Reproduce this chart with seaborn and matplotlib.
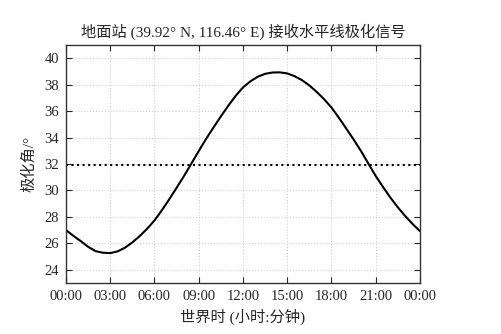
import numpy as np
import pandas as pd
import matplotlib
matplotlib.use("Agg")
import matplotlib.pyplot as plt
import seaborn as sns

# data (every half hour)
hours = [0, 0.5, 1, 1.5, 2, 2.5, 3, 3.5, 4, 4.5, 5, 5.5, 6, 6.5, 7, 7.5, 8, 8.5,
         9, 9.5, 10, 10.5, 11, 11.5, 12, 12.5, 13, 13.5, 14, 14.5, 15, 15.5, 16, 16.5,
         17, 17.5, 18, 18.5, 19, 19.5, 20, 20.5, 21, 21.5, 22, 22.5, 23, 23.5, 24]
angle = [27.00, 26.57, 26.17, 25.74, 25.41, 25.29, 25.26, 25.39, 25.67, 26.07, 26.55, 27.10,
         27.73, 28.50, 29.33, 30.20, 31.09, 32.03, 32.98, 33.90, 34.76, 35.60, 36.40, 37.15,
         37.79, 38.25, 38.60, 38.82, 38.92, 38.93, 38.85, 38.64, 38.34, 37.94, 37.45, 36.90,
         36.27, 35.50, 34.68, 33.85, 32.98, 32.03, 31.09, 30.25, 29.45, 28.72, 28.06, 27.46, 26.92]
ref_angle = 31.92
tick_hours = [0, 3, 6, 9, 12, 15, 18, 21, 24]
tick_labels = ["00:00", "03:00", "06:00", "09:00", "12:00", "15:00", "18:00", "21:00", "00:00"]
y_ticks = [24, 26, 28, 30, 32, 34, 36, 38, 40]

df = pd.DataFrame({"hour": hours, "angle": angle})

sns.set_style("ticks")
plt.rcParams['font.family'] = ['Liberation Serif', 'Noto Sans CJK SC']
plt.rcParams['axes.unicode_minus'] = False

fig = plt.figure(figsize=(5.01, 3.34), dpi=100)
ax = fig.add_axes([0.1317, 0.1527, 0.7066, 0.7126])

sns.lineplot(data=df, x="hour", y="angle", color="black", linewidth=1.5, ax=ax)
ax.axhline(ref_angle, color="black", linestyle=":", linewidth=1.5)

ax.set_xlim(0, 24)
ax.set_ylim(23, 41)
ax.set_xticks(tick_hours)
ax.set_xticklabels(tick_labels)
ax.set_yticks(y_ticks)
ax.tick_params(direction="in", top=True, right=True, labelsize=10.5, length=4, width=0.8, pad=5)
ax.grid(True, color="#d0d0d0", linestyle=":", linewidth=0.8)
for s in ax.spines.values():
    s.set_linewidth(1.0)
    s.set_color("#333333")

ax.set_xlabel("世界时 (小时:分钟)", fontsize=11)
ax.set_ylabel("极化角/°", fontsize=11, labelpad=6)
ax.set_title("地面站 (39.92° N, 116.46° E) 接收水平线极化信号", fontsize=11, pad=6)

plt.savefig("out.png", dpi=100)
plt.close()
